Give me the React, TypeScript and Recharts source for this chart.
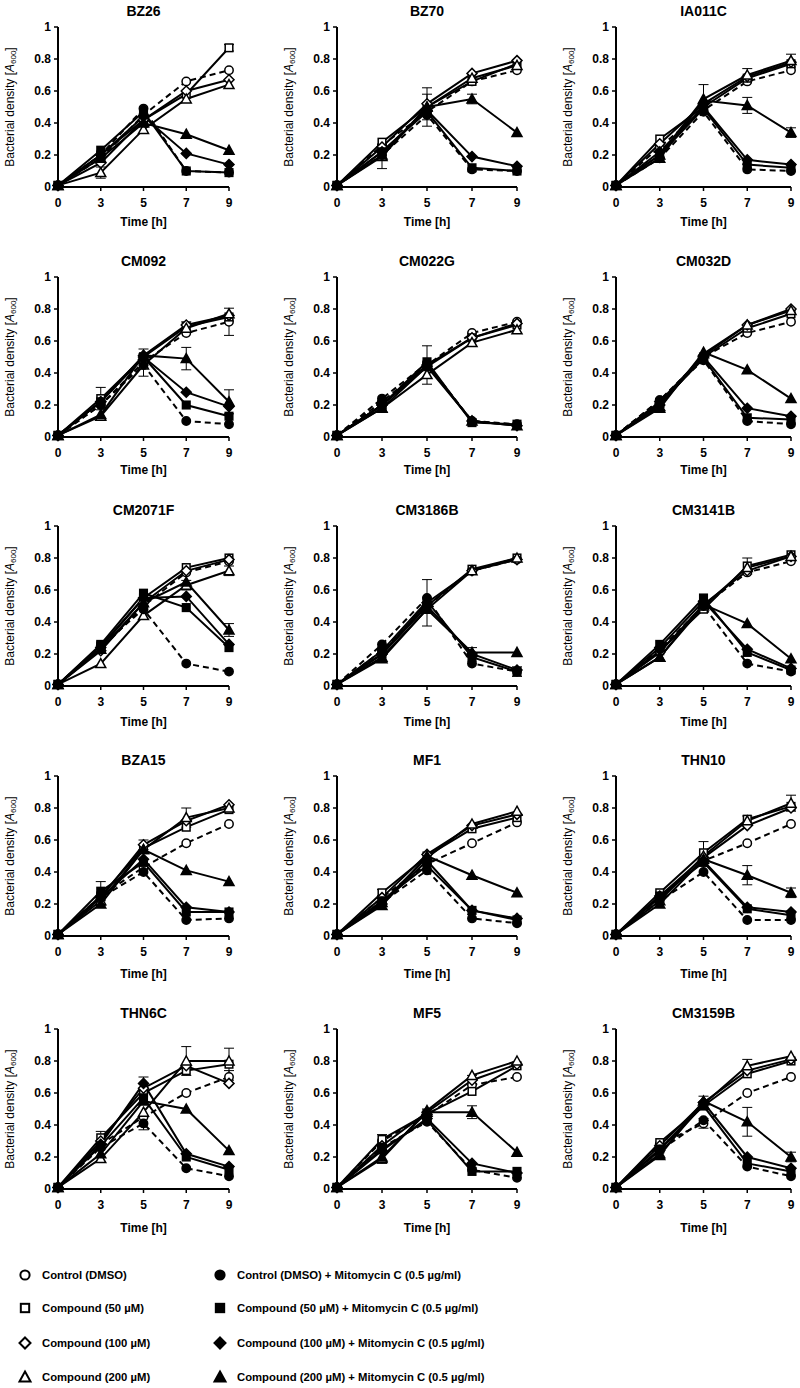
import React from 'react';
import { LineChart, Line, XAxis, YAxis, ErrorBar } from 'recharts';

const FONT = '"Liberation Sans", Arial, Helvetica, sans-serif';

// ---------- data ----------
const TIMES = ['0', '3', '5', '7', '9'];
const Y_TICKS = [0, 0.2, 0.4, 0.6, 0.8, 1];
const SERIES_KEYS = ['C', 'S', 'D', 'T', 'Cm', 'Sm', 'Dm', 'Tm'];
const SERIES_LABELS = [
  'Control (DMSO)',
  'Compound (50 µM)',
  'Compound (100 µM)',
  'Compound (200 µM)',
  'Control (DMSO) + Mitomycin C (0.5 µg/ml)',
  'Compound (50 µM) + Mitomycin C (0.5 µg/ml)',
  'Compound (100 µM) + Mitomycin C (0.5 µg/ml)',
  'Compound (200 µM) + Mitomycin C (0.5 µg/ml)',
];

const BZ26 = {
  C: [0.01, 0.18, 0.45, 0.66, 0.73], S: [0.01, 0.2, 0.42, 0.58, 0.87],
  D: [0.01, 0.15, 0.42, 0.6, 0.67], T: [0.01, 0.09, 0.36, 0.55, 0.64],
  Cm: [0.01, 0.2, 0.49, 0.1, 0.09], Sm: [0.01, 0.23, 0.47, 0.1, 0.09],
  Dm: [0.01, 0.2, 0.44, 0.21, 0.14], Tm: [0.01, 0.18, 0.4, 0.33, 0.23],
};
const BZ26_ERR = { T: [0, 0.035, 0, 0, 0], S: [0, 0, 0, 0, 0.02] };

const BZ70 = {
  C: [0.01, 0.26, 0.47, 0.66, 0.73], S: [0.01, 0.28, 0.5, 0.66, 0.77],
  D: [0.01, 0.25, 0.52, 0.71, 0.79], T: [0.01, 0.19, 0.5, 0.68, 0.76],
  Cm: [0.01, 0.2, 0.45, 0.11, 0.1], Sm: [0.01, 0.22, 0.47, 0.12, 0.1],
  Dm: [0.01, 0.22, 0.48, 0.19, 0.13], Tm: [0.01, 0.2, 0.5, 0.55, 0.34],
};
const BZ70_ERR = { S: [0, 0, 0.12, 0, 0], T: [0, 0.075, 0.08, 0, 0], Tm: [0, 0, 0, 0.03, 0] };

const IA011C = {
  C: [0.01, 0.25, 0.48, 0.66, 0.73], S: [0.01, 0.3, 0.5, 0.68, 0.77],
  D: [0.01, 0.27, 0.52, 0.69, 0.78], T: [0.01, 0.2, 0.55, 0.7, 0.79],
  Cm: [0.01, 0.18, 0.47, 0.11, 0.1], Sm: [0.01, 0.2, 0.49, 0.14, 0.12],
  Dm: [0.01, 0.22, 0.5, 0.17, 0.14], Tm: [0.01, 0.18, 0.54, 0.51, 0.34],
};
const IA011C_ERR = { T: [0, 0, 0.09, 0.04, 0.04], Tm: [0, 0, 0, 0.05, 0.03] };

const CM092 = {
  C: [0.01, 0.2, 0.47, 0.65, 0.72], S: [0.01, 0.24, 0.5, 0.69, 0.75],
  D: [0.01, 0.22, 0.51, 0.7, 0.76], T: [0.01, 0.13, 0.45, 0.68, 0.77],
  Cm: [0.01, 0.2, 0.45, 0.1, 0.08], Sm: [0.01, 0.22, 0.5, 0.2, 0.13],
  Dm: [0.01, 0.22, 0.5, 0.28, 0.19], Tm: [0.01, 0.14, 0.51, 0.49, 0.22],
};
const CM092_ERR = { C: [0, 0, 0, 0, 0.085], S: [0, 0.07, 0.05, 0.03, 0], T: [0, 0, 0.07, 0, 0], Tm: [0, 0, 0, 0.07, 0.075] };

const CM022G = {
  C: [0.01, 0.22, 0.45, 0.65, 0.72], S: [0.01, 0.2, 0.45, 0.62, 0.7],
  D: [0.01, 0.2, 0.44, 0.62, 0.71], T: [0.01, 0.18, 0.39, 0.59, 0.67],
  Cm: [0.01, 0.24, 0.46, 0.1, 0.08], Sm: [0.01, 0.2, 0.47, 0.09, 0.08],
  Dm: [0.01, 0.2, 0.45, 0.1, 0.07], Tm: [0.01, 0.18, 0.44, 0.1, 0.07],
};
const CM022G_ERR = { S: [0, 0, 0.12, 0, 0] };

const CM032D = {
  C: [0.01, 0.23, 0.5, 0.65, 0.72], S: [0.01, 0.21, 0.5, 0.68, 0.77],
  D: [0.01, 0.22, 0.51, 0.7, 0.8], T: [0.01, 0.19, 0.52, 0.7, 0.79],
  Cm: [0.01, 0.23, 0.48, 0.1, 0.08], Sm: [0.01, 0.21, 0.49, 0.12, 0.11],
  Dm: [0.01, 0.2, 0.5, 0.18, 0.13], Tm: [0.01, 0.18, 0.53, 0.42, 0.24],
};
const CM032D_ERR = {};

const CM2071F = {
  C: [0.01, 0.23, 0.5, 0.71, 0.78], S: [0.01, 0.25, 0.55, 0.74, 0.8],
  D: [0.01, 0.22, 0.52, 0.72, 0.79], T: [0.01, 0.14, 0.44, 0.63, 0.72],
  Cm: [0.01, 0.25, 0.48, 0.14, 0.09], Sm: [0.01, 0.26, 0.58, 0.49, 0.24],
  Dm: [0.01, 0.24, 0.55, 0.56, 0.26], Tm: [0.01, 0.23, 0.52, 0.65, 0.35],
};
const CM2071F_ERR = { T: [0, 0, 0, 0.03, 0.03], Tm: [0, 0, 0, 0, 0.04] };

const CM3186B = {
  C: [0.01, 0.22, 0.5, 0.72, 0.79], S: [0.01, 0.2, 0.5, 0.73, 0.8],
  D: [0.01, 0.2, 0.52, 0.72, 0.79], T: [0.01, 0.17, 0.48, 0.72, 0.8],
  Cm: [0.01, 0.26, 0.55, 0.14, 0.09], Sm: [0.01, 0.22, 0.53, 0.18, 0.09],
  Dm: [0.01, 0.2, 0.5, 0.2, 0.1], Tm: [0.01, 0.18, 0.48, 0.21, 0.21],
};
const CM3186B_ERR = { D: [0, 0, 0.145, 0, 0], Tm: [0, 0, 0, 0.03, 0], Sm: [0, 0, 0, 0, 0.03] };

const CM3141B = {
  C: [0.01, 0.22, 0.5, 0.71, 0.78], S: [0.01, 0.22, 0.48, 0.75, 0.82],
  D: [0.01, 0.21, 0.51, 0.72, 0.81], T: [0.01, 0.18, 0.5, 0.74, 0.81],
  Cm: [0.01, 0.23, 0.5, 0.14, 0.09], Sm: [0.01, 0.26, 0.55, 0.21, 0.1],
  Dm: [0.01, 0.24, 0.53, 0.23, 0.11], Tm: [0.01, 0.18, 0.51, 0.39, 0.17],
};
const CM3141B_ERR = { S: [0, 0, 0, 0.05, 0] };

const BZA15 = {
  C: [0.01, 0.25, 0.43, 0.58, 0.7], S: [0.01, 0.25, 0.55, 0.68, 0.79],
  D: [0.01, 0.24, 0.57, 0.72, 0.82], T: [0.01, 0.22, 0.54, 0.74, 0.8],
  Cm: [0.01, 0.24, 0.4, 0.1, 0.11], Sm: [0.01, 0.28, 0.46, 0.15, 0.15],
  Dm: [0.01, 0.24, 0.48, 0.18, 0.15], Tm: [0.01, 0.2, 0.54, 0.41, 0.34],
};
const BZA15_ERR = { Sm: [0, 0.06, 0, 0, 0], T: [0, 0.03, 0, 0.06, 0], D: [0, 0, 0.03, 0, 0] };

const MF1 = {
  C: [0.01, 0.24, 0.45, 0.58, 0.71], S: [0.01, 0.27, 0.5, 0.67, 0.74],
  D: [0.01, 0.24, 0.51, 0.69, 0.76], T: [0.01, 0.21, 0.49, 0.7, 0.78],
  Cm: [0.01, 0.21, 0.41, 0.11, 0.08], Sm: [0.01, 0.22, 0.44, 0.16, 0.1],
  Dm: [0.01, 0.2, 0.47, 0.16, 0.11], Tm: [0.01, 0.19, 0.5, 0.38, 0.27],
};
const MF1_ERR = { S: [0, 0.02, 0, 0, 0] };

const THN10 = {
  C: [0.01, 0.24, 0.47, 0.58, 0.7], S: [0.01, 0.27, 0.52, 0.73, 0.81],
  D: [0.01, 0.25, 0.49, 0.69, 0.8], T: [0.01, 0.22, 0.5, 0.72, 0.83],
  Cm: [0.01, 0.22, 0.4, 0.1, 0.1], Sm: [0.01, 0.25, 0.46, 0.17, 0.13],
  Dm: [0.01, 0.24, 0.47, 0.18, 0.15], Tm: [0.01, 0.2, 0.48, 0.38, 0.27],
};
const THN10_ERR = { T: [0, 0, 0, 0, 0.05], S: [0, 0, 0.07, 0.02, 0], Tm: [0, 0, 0, 0.06, 0.03] };

const THN6C = {
  C: [0.01, 0.28, 0.45, 0.6, 0.7], S: [0.01, 0.32, 0.6, 0.74, 0.78],
  D: [0.01, 0.3, 0.63, 0.77, 0.66], T: [0.01, 0.19, 0.48, 0.8, 0.8],
  Cm: [0.01, 0.26, 0.41, 0.13, 0.08], Sm: [0.01, 0.27, 0.57, 0.2, 0.12],
  Dm: [0.01, 0.28, 0.66, 0.22, 0.14], Tm: [0.01, 0.22, 0.55, 0.5, 0.24],
};
const THN6C_ERR = { S: [0, 0.04, 0, 0, 0.1], T: [0, 0, 0, 0.09, 0], Dm: [0, 0, 0.04, 0, 0], Cm: [0, 0, 0.04, 0, 0], C: [0, 0, 0, 0, 0.04] };

const MF5 = {
  C: [0.01, 0.3, 0.46, 0.65, 0.7], S: [0.01, 0.31, 0.47, 0.61, 0.77],
  D: [0.01, 0.27, 0.48, 0.68, 0.78], T: [0.01, 0.19, 0.49, 0.71, 0.8],
  Cm: [0.01, 0.26, 0.42, 0.12, 0.07], Sm: [0.01, 0.25, 0.43, 0.11, 0.11],
  Dm: [0.01, 0.24, 0.44, 0.16, 0.1], Tm: [0.01, 0.2, 0.48, 0.48, 0.23],
};
const MF5_ERR = { Tm: [0, 0, 0, 0.04, 0], S: [0, 0.03, 0, 0, 0], C: [0, 0, 0.04, 0, 0], D: [0, 0, 0, 0.03, 0], T: [0, 0.03, 0, 0, 0] };

const CM3159B = {
  C: [0.01, 0.28, 0.41, 0.6, 0.7], S: [0.01, 0.29, 0.52, 0.72, 0.8],
  D: [0.01, 0.27, 0.54, 0.74, 0.81], T: [0.01, 0.22, 0.53, 0.77, 0.83],
  Cm: [0.01, 0.24, 0.43, 0.14, 0.08], Sm: [0.01, 0.25, 0.52, 0.16, 0.11],
  Dm: [0.01, 0.24, 0.54, 0.2, 0.13], Tm: [0.01, 0.21, 0.55, 0.42, 0.2],
};
const CM3159B_ERR = { Tm: [0, 0, 0, 0.09, 0.03], T: [0, 0, 0, 0.04, 0], C: [0, 0, 0.03, 0, 0], D: [0, 0, 0.04, 0, 0] };

const PANEL_TITLES = [
  'BZ26', 'BZ70', 'IA011C', 'CM092', 'CM022G', 'CM032D', 'CM2071F', 'CM3186B', 'CM3141B',
  'BZA15', 'MF1', 'THN10', 'THN6C', 'MF5', 'CM3159B',
];
const PANEL_VALUES: any[] = [
  BZ26, BZ70, IA011C, CM092, CM022G, CM032D, CM2071F, CM3186B, CM3141B,
  BZA15, MF1, THN10, THN6C, MF5, CM3159B,
];
const PANEL_ERRORS: any[] = [
  BZ26_ERR, BZ70_ERR, IA011C_ERR, CM092_ERR, CM022G_ERR, CM032D_ERR, CM2071F_ERR, CM3186B_ERR, CM3141B_ERR,
  BZA15_ERR, MF1_ERR, THN10_ERR, THN6C_ERR, MF5_ERR, CM3159B_ERR,
];

// ---------- styles / layout ----------
const SERIES_STYLE: Record<string, { shape: string; filled: boolean; dash?: string }> = {
  C: { shape: 'circle', filled: false, dash: '6 4' },
  S: { shape: 'square', filled: false },
  D: { shape: 'diamond', filled: false },
  T: { shape: 'triangle', filled: false },
  Cm: { shape: 'circle', filled: true, dash: '6 4' },
  Sm: { shape: 'square', filled: true },
  Dm: { shape: 'diamond', filled: true },
  Tm: { shape: 'triangle', filled: true },
};

const COL_LEFT = [0, 279, 558];
const COL_PLOT_W = [171, 180, 175];
const ROW_TOP = [0, 250, 499, 749, 1002];
const TIME_OFFSET = [35, 33, 36, 38, 39];
const CHART_H = 240;
const Y_AXIS_W = 58;
const RIGHT_M = 14;
const PLOT_TOP = 27;
const X_AXIS_H = 40;
const BOTTOM_M = 13;

function Marker({ cx, cy, shape, filled, s = 1, sw = 1.5 }: any) {
  const common = { fill: filled ? '#000' : '#fff', stroke: '#000', strokeWidth: sw };
  if (shape === 'circle') return <circle cx={cx} cy={cy} r={4.2 * s} {...common} />;
  if (shape === 'square')
    return <rect x={cx - 3.8 * s} y={cy - 3.8 * s} width={7.6 * s} height={7.6 * s} {...common} />;
  if (shape === 'diamond')
    return (
      <polygon
        points={`${cx},${cy - 5 * s} ${cx + 5 * s},${cy} ${cx},${cy + 5 * s} ${cx - 5 * s},${cy}`}
        {...common}
      />
    );
  return (
    <polygon
      points={`${cx},${cy - 5 * s} ${cx + 5 * s},${cy + 4 * s} ${cx - 5 * s},${cy + 4 * s}`}
      {...common}
    />
  );
}

const makeDot = (key: string) => (props: any) => {
  const { cx, cy, index } = props;
  const st = SERIES_STYLE[key];
  if (cx == null || cy == null) return <g key={`${key}-${index}`} />;
  return (
    <g key={`${key}-${index}`}>
      <Marker cx={cx} cy={cy} shape={st.shape} filled={st.filled} />
    </g>
  );
};

const YLabel = (props: any) => {
  const vb = props.viewBox || {};
  const x = (vb.x ?? 0) + 10;
  const y = (vb.y ?? 0) + (vb.height ?? 0) / 2;
  return (
    <text
      x={x}
      y={y}
      transform={`rotate(-90, ${x}, ${y})`}
      textAnchor="middle"
      dominantBaseline="central"
      fontSize={12}
      fill="#000"
      fontFamily={FONT}
    >
      Bacterial density [<tspan fontStyle="italic">A</tspan>
      <tspan fontSize={8} dy={3}>600</tspan>
      <tspan dy={-3}>]</tspan>
    </text>
  );
};

const makeXLabel = (off: number) => (props: any) => {
  const vb = props.viewBox || {};
  const x = (vb.x ?? 0) + (vb.width ?? 0) / 2;
  const y = (vb.y ?? 0) + off;
  return (
    <text x={x} y={y} textAnchor="middle" dominantBaseline="central" fontSize={12} fontWeight="bold" fill="#000" fontFamily={FONT}>
      Time [h]
    </text>
  );
};

function Panel({ idx }: { idx: number }) {
  const col = idx % 3;
  const row = Math.floor(idx / 3);
  const vals = PANEL_VALUES[idx];
  const errs = PANEL_ERRORS[idx] || {};
  const plotW = COL_PLOT_W[col];
  const chartW = Y_AXIS_W + plotW + RIGHT_M;
  const data = TIMES.map((t, i) => {
    const r: any = { t };
    SERIES_KEYS.forEach((k) => {
      r[k] = vals[k][i];
      if (errs[k]) r[k + '_e'] = errs[k][i];
    });
    return r;
  });
  const tickStyle = { fontSize: 12, fontWeight: 'bold', fill: '#000', fontFamily: FONT };
  return (
    <div style={{ position: 'absolute', left: COL_LEFT[col], top: ROW_TOP[row], width: chartW, height: CHART_H }}>
      <div
        style={{
          position: 'absolute',
          left: Y_AXIS_W - 20,
          width: plotW + 40,
          top: 2,
          height: 18,
          lineHeight: '18px',
          textAlign: 'center',
          fontFamily: FONT,
          fontWeight: 'bold',
          fontSize: 14,
          color: '#000',
        }}
      >
        {PANEL_TITLES[idx]}
      </div>
      <LineChart
        width={chartW}
        height={CHART_H}
        data={data}
        margin={{ top: PLOT_TOP, right: RIGHT_M, left: 0, bottom: BOTTOM_M }}
        style={{ fontFamily: FONT }}
      >
        <XAxis
          dataKey="t"
          type="category"
          interval={0}
          height={X_AXIS_H}
          tick={tickStyle}
          tickSize={4}
          tickMargin={7}
          axisLine={{ stroke: '#000', strokeWidth: 2 }}
          tickLine={{ stroke: '#000', strokeWidth: 1.5 }}
          label={{ content: makeXLabel(TIME_OFFSET[row]) }}
        />
        <YAxis
          type="number"
          domain={[0, 1]}
          ticks={Y_TICKS}
          interval={0}
          width={Y_AXIS_W}
          tick={tickStyle}
          tickSize={4}
          tickMargin={3}
          axisLine={{ stroke: '#000', strokeWidth: 2 }}
          tickLine={{ stroke: '#000', strokeWidth: 1.5 }}
          tickFormatter={(v: number) => String(v)}
          label={{ content: YLabel }}
        />
        {SERIES_KEYS.map((k) => (
          <Line
            key={k}
            dataKey={k}
            name={k}
            type="linear"
            stroke="#000"
            strokeWidth={2}
            strokeDasharray={SERIES_STYLE[k].dash}
            dot={makeDot(k)}
            activeDot={false}
            isAnimationActive={false}
          >
            {errs[k] ? (
              <ErrorBar dataKey={k + '_e'} width={5} stroke="#000" strokeWidth={1} direction="y" />
            ) : null}
          </Line>
        ))}
      </LineChart>
    </div>
  );
}

const LEGEND_ROWS_Y = [1275, 1308, 1343, 1377];
const LEGEND_MARK_X = [25, 220];
const LEGEND_TEXT_X = [42, 237];

function LegendBlock() {
  return (
    <>
      {SERIES_KEYS.map((k, i) => {
        const col = i < 4 ? 0 : 1;
        const row = i % 4;
        const st = SERIES_STYLE[k];
        const y = LEGEND_ROWS_Y[row];
        return (
          <React.Fragment key={k}>
            <svg
              width={16}
              height={16}
              style={{ position: 'absolute', left: LEGEND_MARK_X[col] - 8, top: y - 8 }}
            >
              <Marker cx={8} cy={8} shape={st.shape} filled={st.filled} s={1.1} sw={2} />
            </svg>
            <div
              style={{
                position: 'absolute',
                left: LEGEND_TEXT_X[col],
                top: y - 8,
                height: 16,
                lineHeight: '16px',
                fontFamily: FONT,
                fontWeight: 'bold',
                fontSize: 11.3,
                color: '#000',
                whiteSpace: 'nowrap',
              }}
            >
              {SERIES_LABELS[i]}
            </div>
          </React.Fragment>
        );
      })}
    </>
  );
}

export default function App() {
  return (
    <div style={{ position: 'absolute', left: 0, top: 0, width: 800, height: 1388, background: '#fff', overflow: 'hidden' }}>
      {PANEL_TITLES.map((_, i) => (
        <Panel key={i} idx={i} />
      ))}
      <LegendBlock />
    </div>
  );
}
